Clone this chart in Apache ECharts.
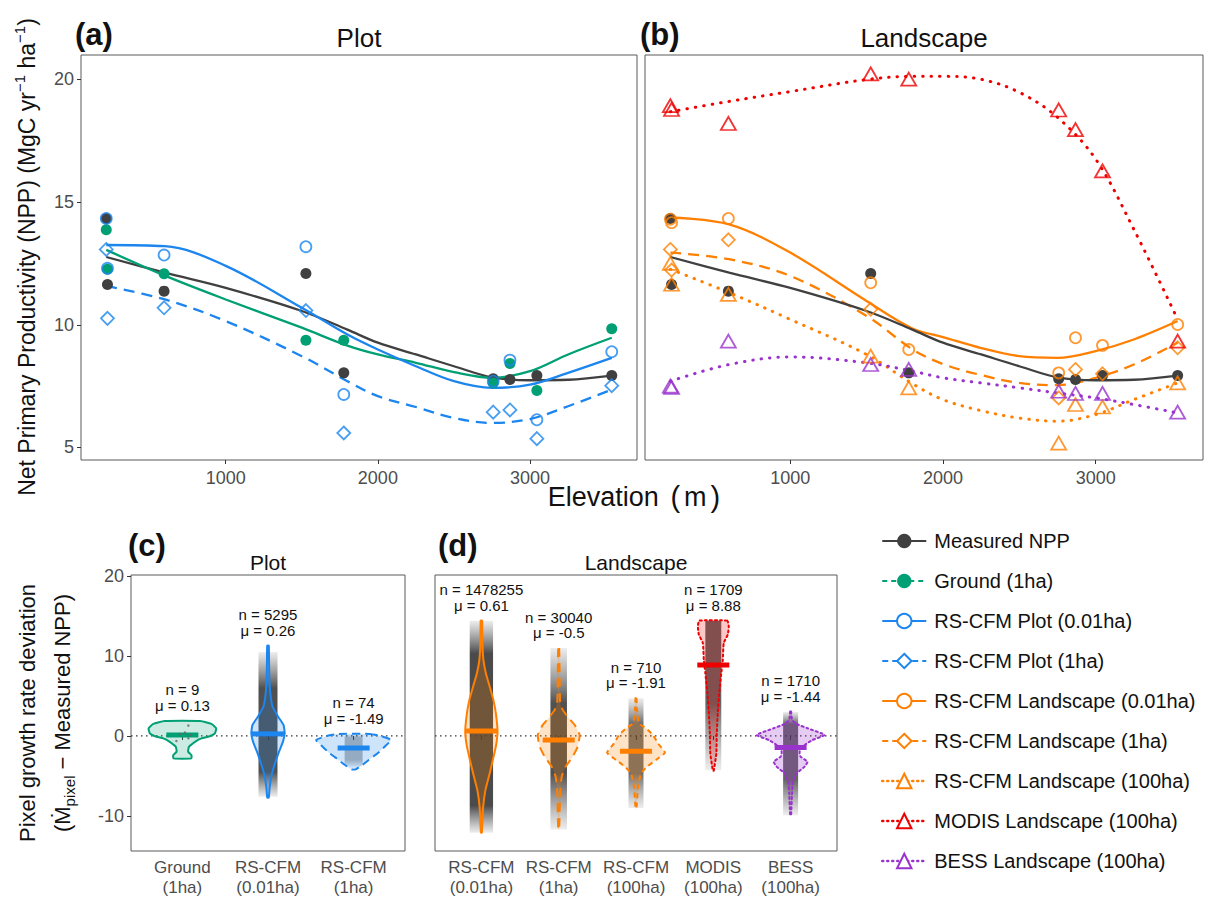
<!DOCTYPE html>
<html><head><meta charset="utf-8">
<script src="https://cdn.jsdelivr.net/npm/echarts@6/dist/echarts.min.js"></script>
<style>html,body{margin:0;padding:0;background:#fff}#c{width:1214px;height:898px}</style>
</head><body><div id="c"></div>
<script>
const FONT = '"Liberation Sans", Arial, Helvetica, sans-serif';

// ---------- Top panels: plot-level points ----------
const plotE      = [215, 223, 595, 1527, 1776, 2758, 2868, 3045, 3537];
const measured   = [14.33, 11.64, 11.37, 12.09, 8.04, 7.80, 7.77, 7.93, 7.93];
const ground1ha  = [13.87, 12.26, 12.08, 9.37, 9.37, 7.63, 8.42, 7.32, 9.84];
const plot001    = [14.33, 12.30, 12.84, 13.18, 7.16, 7.70, 8.56, 6.13, 8.90];
const plot1ha    = [13.07, 10.26, 10.69, 10.58, 5.59, 6.44, 6.53, 5.36, 7.52];
const land001    = [14.30, 14.16, 14.33, 11.71, 8.99, 8.04, 9.47, 9.16, 10.01];
const land1ha    = [13.07, 12.23, 13.46, 10.63, null, 7.02, 8.18, 8.00, 9.06];
const land100    = [12.50, 11.65, 11.24, 8.72, 7.43, 5.18, 6.75, 6.65, 7.63];
const modis100   = [18.93, 18.77, 18.20, 20.22, 20.01, 18.75, 17.95, 16.27, 9.33];
const bess100    = [7.50, 7.45, 9.33, 8.38, 8.18, 7.29, 7.20, 7.20, 6.44];

// ---------- Top panels: fitted curves ----------
const fitE        = [215, 600, 1000, 1500, 1800, 2000, 2250, 2500, 2750, 3000, 3250, 3537];
const fitMeasured = [12.76, 12.12, 11.50, 10.56, 9.80, 9.27, 8.79, 8.31, 7.86, 7.74, 7.76, 7.93];
const fitGround   = [13.05, 12.00, 11.03, 9.88, 9.15, 8.79, 8.45, 8.07, 7.84, 8.11, 8.79, 9.47];
const fitPlot001  = [13.25, 13.20, 12.40, 10.69, 9.60, 8.99, 8.31, 7.70, 7.43, 7.56, 8.04, 8.65];
const fitPlot1ha  = [11.58, 11.03, 10.15, 8.72, 7.70, 7.09, 6.65, 6.20, 6.00, 6.16, 6.68, 7.36];
const fitLand001  = [14.37, 14.09, 12.94, 10.97, 9.85, 9.50, 9.05, 8.72, 8.65, 8.93, 9.40, 10.15];
const fitLand1ha  = [12.94, 12.67, 11.99, 10.36, 9.00, 8.40, 7.95, 7.63, 7.54, 7.84, 8.38, 9.27];
const fitLand100  = [12.26, 11.31, 10.22, 8.79, 7.60, 6.95, 6.50, 6.20, 6.07, 6.34, 6.95, 7.63];
const fitModis    = [18.68, 19.10, 19.50, 19.99, 20.12, 20.12, 20.00, 19.47, 18.45, 16.75, 13.89, 10.22];
const fitBess     = [7.70, 8.38, 8.69, 8.45, 8.11, 7.84, 7.63, 7.43, 7.22, 7.02, 6.75, 6.41];

const elevTicks = [1000, 2000, 3000];
const nppTicks  = [5, 10, 15, 20];
const devTicks  = [-10, 0, 10, 20];

// ---------- Bottom panels: violins ----------
const catsPlot = ['Ground\n(1ha)', 'RS-CFM\n(0.01ha)', 'RS-CFM\n(1ha)'];
const catsLand = ['RS-CFM\n(0.01ha)', 'RS-CFM\n(1ha)', 'RS-CFM\n(100ha)', 'MODIS\n(100ha)', 'BESS\n(100ha)'];
const nPlot  = ['9', '5295', '74'];
const muPlot = ['0.13', '0.26', '-1.49'];
const nLand  = ['1478255', '30040', '710', '1709', '1710'];
const muLand = ['0.61', '-0.5', '-1.91', '8.88', '-1.44'];
const meanPlot = [0.13, 0.26, -1.49];
const meanLand = [0.61, -0.5, -1.91, 8.88, -1.44];

// violin outlines: deviation values (top->bottom) and half widths (x-axis units)
const vGround   = [1.88, 1.5, 0.96, 0.33, 0.0, -0.3, -0.7, -1.34, -1.96, -2.38, -2.8];
const wGround   = [0.208, 0.339, 0.395, 0.380, 0.327, 0.222, 0.152, 0.078, 0.067, 0.105, 0.105];
const vPlot001  = [11.28, 9.52, 7.44, 5.35, 3.68, 2.42, 1.38, 0.33, -0.71, -1.96, -3.43, -4.68, -6.35, -7.69];
const wPlot001  = [0.009, 0.012, 0.015, 0.027, 0.053, 0.117, 0.181, 0.195, 0.175, 0.129, 0.082, 0.047, 0.020, 0.009];
const vPlot1ha  = [0.25, 0.0, -0.5, -1.34, -2.17, -3.0, -3.6, -4.18];
const wPlot1ha  = [0.187, 0.315, 0.438, 0.362, 0.280, 0.175, 0.105, 0.023];
const vLand001  = [14.41, 11.61, 9.52, 7.85, 6.18, 4.51, 2.84, 0.54, -1.34, -3.0, -4.68, -6.77, -8.86, -12.1];
const wLand001  = [0.009, 0.013, 0.026, 0.058, 0.107, 0.155, 0.187, 0.209, 0.187, 0.148, 0.107, 0.052, 0.023, 0.006];
const vLand1ha  = [10.99, 7.18, 4.09, 3.26, 2.42, 1.38, 0.13, -1.34, -2.59, -3.84, -5.1, -7.18, -11.7];
const wLand1ha  = [0.006, 0.013, 0.019, 0.052, 0.116, 0.206, 0.271, 0.245, 0.181, 0.090, 0.039, 0.019, 0.006];
const vLand100  = [4.72, 3.26, 1.59, 0.96, 0.13, -0.92, -2.09, -3.0, -3.84, -4.68, -6.35, -9.06];
const wLand100  = [0.006, 0.013, 0.039, 0.129, 0.219, 0.284, 0.374, 0.258, 0.142, 0.065, 0.026, 0.006];
const vModis    = [14.41, 13.7, 12.66, 11.61, 9.52, 7.85, 5.35, 2.84, 0.33, -2.17, -4.34];
const wModis    = [0.181, 0.200, 0.187, 0.135, 0.123, 0.103, 0.077, 0.058, 0.045, 0.039, 0.006];
const vBess     = [3.05, 2.0, 1.5, 0.96, 0.13, -0.5, -1.13, -1.96, -2.59, -3.22, -3.84, -4.68, -5.72, -7.18, -9.9];
const wBess     = [0.006, 0.019, 0.077, 0.219, 0.439, 0.284, 0.181, 0.116, 0.129, 0.219, 0.181, 0.077, 0.032, 0.019, 0.006];

// jittered pixel clouds: [low, denseLow, denseHigh, high, halfWidth]
const cloudPlot = [null, [-7.6, -4.5, 6.0, 10.5, 0.111], [-3.8, -3.0, -0.2, 0.1, 0.105]];
const cloudLand = [[-12.1, -8.7, 10.3, 14.4, 0.151], [-11.7, -4.7, 4.1, 11.0, 0.107],
                   [-9.0, -4.7, 1.6, 4.7, 0.097], [-4.3, 4.0, 14.4, 14.4, 0.103], [-9.9, -5.5, 1.5, 3.0, 0.097]];
const cloudAlpha = {plot: [0, 0.85, 0.35], land: [0.88, 0.85, 0.7, 0.75, 0.75]};
// the ground-plot deviations visible as points
const groundPtsV = [1.3, 0.42, 0.25, 0.13, -0.29, -0.63];
const groundPtsJ = [0.07, 0.03, -0.03, 0.10, 0.07, -0.07];

// ---------- colours ----------
const C = {grey: '#404040', green: '#00a074', blue: '#1c86ee', orange: '#ff7f00', red: '#ee0000', purple: '#9a32cd'};

const pair = (xs, ys) => xs.map((x, i) => [x, ys[i]]).filter(d => d[1] !== null);
const DASH = [11, 7], DOT = [0.5, 8];

function fitLine(name, grid, xs, ys, color, type, symbol) {
  return {type: 'line', name, xAxisIndex: grid, yAxisIndex: grid, data: pair(xs, ys), smooth: 0.35,
    showSymbol: false, symbol, color, silent: true, z: 2,
    lineStyle: {color, type, cap: type === DOT ? 'round' : 'butt', width: type === DOT ? 3 : 2.3}};
}
function pts(name, grid, ys, color, symbol, size, hollow) {
  return {type: 'scatter', name, xAxisIndex: grid, yAxisIndex: grid, data: pair(plotE, ys), symbol, symbolSize: size,
    color, silent: true, z: 3,
    itemStyle: hollow ? {color: 'rgba(0,0,0,0)', borderColor: color, borderWidth: 1.8} : {color, opacity: 1}};
}

function violinRender(profV, profW, clouds, alphas, cols, fills, dashes, nT, muT) {
  return function (params, api) {
    const i = params.dataIndex;
    const c = api.value(0), mean = api.value(1);
    const vv = profV[i], ww = profW[i];
    const children = [];
    const cl = clouds[i];
    if (cl) {
      const tl = api.coord([c - cl[4], cl[3]]);
      const br = api.coord([c + cl[4], cl[0]]);
      const span = cl[3] - cl[0];
      const a = (cl[3] - cl[2]) / span, b = (cl[3] - cl[1]) / span;
      const dark = 'rgba(50,50,50,' + alphas[i] + ')', light = 'rgba(80,80,80,0.1)';
      children.push({type: 'rect', shape: {x: tl[0], y: tl[1], width: br[0] - tl[0], height: br[1] - tl[1]},
        style: {fill: {type: 'linear', x: 0, y: 0, x2: 0, y2: 1, colorStops: [
          {offset: 0, color: a > 0.001 ? light : dark}, {offset: a, color: dark},
          {offset: b, color: dark}, {offset: 1, color: light}]}}});
    }
    const p = [];
    for (let k = 0; k < vv.length; k++) p.push(api.coord([c + ww[k], vv[k]]));
    for (let k = vv.length - 1; k >= 0; k--) p.push(api.coord([c - ww[k], vv[k]]));
    children.push({type: 'polygon', shape: {points: p, smooth: 0.15},
      style: {fill: fills[i], stroke: cols[i], lineWidth: 2, lineDash: dashes[i], lineCap: dashes[i] && dashes[i][0] < 3 ? 'round' : 'butt'}});
    const m = api.coord([c, mean]);
    children.push({type: 'line', shape: {x1: m[0] - 16, y1: m[1], x2: m[0] + 16, y2: m[1]},
      style: {stroke: cols[i], lineWidth: 5}});
    const top = api.coord([c, vv[0]]);
    children.push({type: 'text', x: top[0], y: top[1] - 8 - 15.5, z2: 10,
      style: {text: 'n = ' + nT[i], font: '15px ' + FONT, fill: '#111', align: 'center', verticalAlign: 'bottom'}});
    children.push({type: 'text', x: top[0], y: top[1] - 8, z2: 10,
      style: {text: 'μ = ' + muT[i], font: '15px ' + FONT, fill: '#111', align: 'center', verticalAlign: 'bottom'}});
    return {type: 'group', children};
  };
}

const chart = echarts.init(document.getElementById('c'), null, {renderer: 'svg'});

const axisCommonX = (idx, min, max, ticks, fmt, fontSize, lh, margin) => ({
  type: 'value', gridIndex: idx, min, max, splitLine: {show: false},
  axisLine: {show: false},
  axisTick: {show: true, length: 4, lineStyle: {color: '#333'}, customValues: ticks},
  axisLabel: {show: true, customValues: ticks, formatter: fmt, color: '#4d4d4d', fontSize, lineHeight: lh,
    fontFamily: FONT, margin}
});
const axisCommonY = (idx, min, max, ticks, showLab) => ({
  type: 'value', gridIndex: idx, min, max, splitLine: {show: false},
  axisLine: {show: false},
  axisTick: {show: showLab, length: 4, lineStyle: {color: '#333'}, customValues: ticks},
  axisLabel: {show: showLab, customValues: ticks, color: '#4d4d4d', fontSize: 18, fontFamily: FONT, margin: 7}
});

const gridStyle = {show: true, borderColor: '#5a5a5a', borderWidth: 1, backgroundColor: 'transparent'};

const series = [
  fitLine('Measured NPP', 0, fitE, fitMeasured, C.grey, 'solid', 'circle'),
  fitLine('Ground (1ha)', 0, fitE, fitGround, C.green, 'solid', 'circle'),
  fitLine('RS-CFM Plot (0.01ha)', 0, fitE, fitPlot001, C.blue, 'solid', 'emptyCircle'),
  fitLine('RS-CFM Plot (1ha)', 0, fitE, fitPlot1ha, C.blue, DASH, 'emptyDiamond'),
  fitLine('RS-CFM Landscape (0.01ha)', 1, fitE, fitLand001, C.orange, 'solid', 'emptyCircle'),
  fitLine('RS-CFM Landscape (1ha)', 1, fitE, fitLand1ha, C.orange, DASH, 'emptyDiamond'),
  fitLine('RS-CFM Landscape (100ha)', 1, fitE, fitLand100, C.orange, DOT, 'emptyTriangle'),
  fitLine('MODIS Landscape (100ha)', 1, fitE, fitModis, C.red, DOT, 'emptyTriangle'),
  fitLine('BESS Landscape (100ha)', 1, fitE, fitBess, C.purple, DOT, 'emptyTriangle'),
  fitLine('Measured NPP', 1, fitE, fitMeasured, C.grey, 'solid', 'circle'),
  pts('Measured NPP', 0, measured, C.grey, 'circle', 11, false),
  pts('Ground (1ha)', 0, ground1ha, C.green, 'circle', 11, false),
  pts('RS-CFM Plot (0.01ha)', 0, plot001, C.blue, 'circle', 11, true),
  pts('RS-CFM Plot (1ha)', 0, plot1ha, C.blue, 'diamond', 13, true),
  pts('Measured NPP', 1, measured, C.grey, 'circle', 11, false),
  pts('RS-CFM Landscape (0.01ha)', 1, land001, C.orange, 'circle', 11, true),
  pts('RS-CFM Landscape (1ha)', 1, land1ha, C.orange, 'diamond', 13, true),
  pts('RS-CFM Landscape (100ha)', 1, land100, C.orange, 'triangle', [15, 13], true),
  pts('MODIS Landscape (100ha)', 1, modis100, C.red, 'triangle', [15, 13], true),
  pts('BESS Landscape (100ha)', 1, bess100, C.purple, 'triangle', [15, 13], true),
  {type: 'line', xAxisIndex: 2, yAxisIndex: 2, data: [[0.4, 0], [3.6, 0]], symbol: 'none', silent: true, z: 1,
    lineStyle: {color: '#333', width: 1.3, type: [1.5, 3.5]}},
  {type: 'line', xAxisIndex: 3, yAxisIndex: 3, data: [[0.4, 0], [5.6, 0]], symbol: 'none', silent: true, z: 1,
    lineStyle: {color: '#333', width: 1.3, type: [1.5, 3.5]}},
  {type: 'custom', name: 'violinPlot', xAxisIndex: 2, yAxisIndex: 2, silent: true, z: 2,
    data: meanPlot.map((m, i) => [i + 1, m]),
    renderItem: violinRender([vGround, vPlot001, vPlot1ha], [wGround, wPlot001, wPlot1ha], cloudPlot, cloudAlpha.plot,
      [C.green, C.blue, C.blue],
      ['rgba(0,160,116,0.2)', 'rgba(28,134,238,0.22)', 'rgba(28,134,238,0.22)'],
      [null, null, [8, 5]], nPlot, muPlot)},
  {type: 'custom', name: 'violinLand', xAxisIndex: 3, yAxisIndex: 3, silent: true, z: 2,
    data: meanLand.map((m, i) => [i + 1, m]),
    renderItem: violinRender([vLand001, vLand1ha, vLand100, vModis, vBess], [wLand001, wLand1ha, wLand100, wModis, wBess],
      cloudLand, cloudAlpha.land,
      [C.orange, C.orange, C.orange, C.red, C.purple],
      ['rgba(255,127,0,0.22)', 'rgba(255,127,0,0.22)', 'rgba(255,127,0,0.22)', 'rgba(238,0,0,0.22)', 'rgba(154,50,205,0.25)'],
      [null, [9, 6], [5, 4], [2, 3], [2, 3]], nLand, muLand)},
  {type: 'scatter', xAxisIndex: 2, yAxisIndex: 2, silent: true, z: 3, symbolSize: 2.5,
    data: groundPtsV.map((v, i) => [1 + groundPtsJ[i], v]), itemStyle: {color: '#666'}}
];

const option = {
  animation: false,
  backgroundColor: '#fff',
  textStyle: {fontFamily: FONT},
  grid: [
    Object.assign({left: 81, top: 55, width: 556, height: 405}, gridStyle),
    Object.assign({left: 645, top: 55, width: 558, height: 405}, gridStyle),
    Object.assign({left: 131, top: 575, width: 274, height: 276}, gridStyle),
    Object.assign({left: 435, top: 575, width: 402, height: 276}, gridStyle)
  ],
  xAxis: [
    axisCommonX(0, 49, 3703, elevTicks, v => String(v), 18, 20, 8),
    axisCommonX(1, 49, 3703, elevTicks, v => String(v), 18, 20, 8),
    axisCommonX(2, 0.4, 3.6, [1, 2, 3], v => catsPlot[Math.round(v) - 1], 17, 20, 6),
    axisCommonX(3, 0.4, 5.6, [1, 2, 3, 4, 5], v => catsLand[Math.round(v) - 1], 17, 20, 6)
  ],
  yAxis: [
    axisCommonY(0, 4.49, 20.99, nppTicks, true),
    axisCommonY(1, 4.49, 20.99, nppTicks, false),
    axisCommonY(2, -14.38, 20.12, devTicks, true),
    axisCommonY(3, -14.38, 20.12, devTicks, false)
  ],
  legend: {
    orient: 'vertical', left: 881, top: 531, padding: 0, itemWidth: 44, itemHeight: 18, itemGap: 20,
    selectedMode: false,
    textStyle: {fontSize: 20, color: '#111', fontFamily: FONT, lineHeight: 20, padding: [0, 0, 0, 3]},
    data: [
      {name: 'Measured NPP'},
      {name: 'Ground (1ha)', lineStyle: {type: [5, 4]}},
      {name: 'RS-CFM Plot (0.01ha)'},
      {name: 'RS-CFM Plot (1ha)', lineStyle: {type: [6, 4]}},
      {name: 'RS-CFM Landscape (0.01ha)'},
      {name: 'RS-CFM Landscape (1ha)', lineStyle: {type: [6, 4]}},
      {name: 'RS-CFM Landscape (100ha)', lineStyle: {type: [1, 4], width: 2.5}},
      {name: 'MODIS Landscape (100ha)', lineStyle: {type: [1, 4], width: 2.5}},
      {name: 'BESS Landscape (100ha)', lineStyle: {type: [1, 4], width: 2.5}}
    ]
  },
  graphic: [
    {type: 'text', x: 75, y: 34, style: {text: '(a)', font: 'bold 31px ' + FONT, fill: '#111', verticalAlign: 'middle'}},
    {type: 'text', x: 640, y: 34, style: {text: '(b)', font: 'bold 31px ' + FONT, fill: '#111', verticalAlign: 'middle'}},
    {type: 'text', x: 359, y: 38, style: {text: 'Plot', font: '26px ' + FONT, fill: '#111', align: 'center', verticalAlign: 'middle'}},
    {type: 'text', x: 924, y: 38, style: {text: 'Landscape', font: '26px ' + FONT, fill: '#111', align: 'center', verticalAlign: 'middle'}},
    {type: 'text', x: 636, y: 497, style: {text: 'Elevation {p|(}m{p|)}', font: '27px ' + FONT, fill: '#111', align: 'center', verticalAlign: 'middle',
      rich: {p: {fontSize: 29, fontFamily: FONT, padding: [0, 4], fill: '#111'}}}},
    {type: 'text', x: 27, y: 257, rotation: Math.PI / 2,
      style: {text: 'Net Primary Productivity (NPP) (MgC yr{sup|−1} ha{sup|−1})', font: '23px ' + FONT, fill: '#111',
        align: 'center', verticalAlign: 'middle',
        rich: {sup: {fontSize: 15, fontFamily: FONT, verticalAlign: 'top', lineHeight: 30, fill: '#111'}}}},
    {type: 'text', x: 128, y: 545, style: {text: '(c)', font: 'bold 31px ' + FONT, fill: '#111', verticalAlign: 'middle'}},
    {type: 'text', x: 438, y: 545, style: {text: '(d)', font: 'bold 31px ' + FONT, fill: '#111', verticalAlign: 'middle'}},
    {type: 'text', x: 268, y: 562, style: {text: 'Plot', font: '21px ' + FONT, fill: '#111', align: 'center', verticalAlign: 'middle'}},
    {type: 'text', x: 636, y: 562, style: {text: 'Landscape', font: '21px ' + FONT, fill: '#111', align: 'center', verticalAlign: 'middle'}},
    {type: 'text', x: 27, y: 713, rotation: Math.PI / 2,
      style: {text: 'Pixel growth rate deviation', font: '22px ' + FONT, fill: '#111', align: 'center', verticalAlign: 'middle'}},
    {type: 'text', x: 62, y: 713, rotation: Math.PI / 2,
      style: {text: '(Ṁ{sub|pixel} − Measured NPP)', font: '22px ' + FONT, fill: '#111', align: 'center', verticalAlign: 'middle',
        rich: {sub: {fontSize: 15, fontFamily: FONT, verticalAlign: 'bottom', lineHeight: 30, fill: '#111'}}}}
  ],
  series
};
chart.setOption(option);
</script></body></html>
